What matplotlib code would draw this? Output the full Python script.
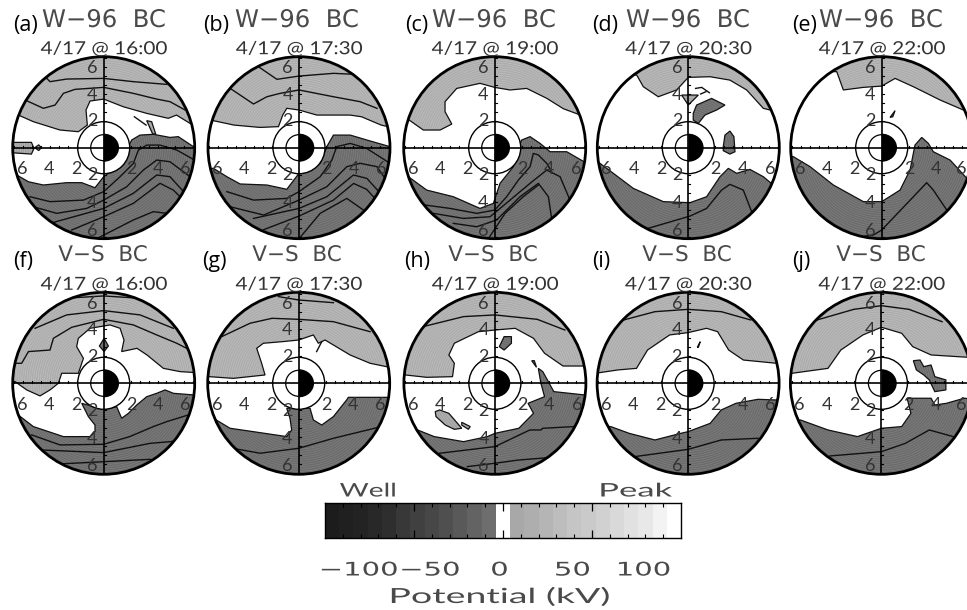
#!/usr/bin/env python
"""Ten polar potential maps (W-96 vs V-S boundary) with a shared grey colour bar."""
import matplotlib
matplotlib.use("Agg")
import matplotlib.pyplot as plt
from matplotlib.patches import Circle, Polygon, Wedge, Ellipse
from matplotlib.patheffects import AbstractPathEffect
from matplotlib.transforms import Affine2D
import numpy as np

W, H = 967, 610
R_MAX = 7.0
PX_PER_UNIT = 13.0

LIGHT_FILL, LIGHT_GRAIN = "#adadad", "#c4c4c4"
DARK_FILL, DARK_GRAIN = "#6c6c6c", "#868686"
THIN_FONT = ["Lato", "DejaVu Sans"]
WIDE_FONT = ["DejaVu Sans"]
LABEL_FONT = ["Open Sans", "DejaVu Sans"]
THIN_COLOR = "#333333"
FAINT_COLOR = "#4a4a4a"

# contour regions, x/y in model units, each runs left to right
A_LIGHT = [(-6.56, 2.51), (-5.41, 2.0), (-3.36, 1.36), (-1.95, 1.23), (-1.26, 1.74), (-1.36, 2.9), (-1.05, 3.59), (0, 3.74), (1.51, 3.15), (3.31, 2.64), (4.97, 2.26), (5.6, 2.51), (6.64, 1.87)]
A_DARK = [(-6.69, -2.1), (-5.79, -2.62), (-4.64, -2.87), (-2.85, -2.69), (-1.69, -2.69), (-0.67, -3.08), (0, -2.23), (1, -1.5), (1.9, 0.08), (2.15, 0.59), (2.79, 0.97), (3.82, 1.03), (5.1, 0.79), (5.74, 0.85), (6.9, 0.08)]
A_LINES = [
    [(-6.05, 3.67), (-4.64, 3.03), (-3.74, 3.28), (-3.1, 4.18), (-2.2, 4.49), (0, 4.64), (2.28, 4.18), (4.08, 3.74), (5.1, 3.54), (6.26, 2.9)],
    [(-4.64, 5.59), (-4.13, 5.08), (-2.85, 5.28), (0, 5.33), (2.28, 5.08), (4.85, 4.87)],
    [(-5.67, -3.77), (-4.13, -4.15), (-1.56, -4.03), (0, -3.38), (1.26, -2.23), (2.28, -1.21), (2.67, -0.18), (3.31, 0.2), (4.33, 0.2), (5.62, -0.18), (6.9, -0.9)],
    [(-5.41, -4.54), (-3.62, -5.05), (-1.31, -4.67), (0, -4.03), (1.77, -3), (3.05, -1.72), (4.08, -0.95), (5.1, -1.08), (6.64, -2.23)],
    [(-4.13, -5.82), (0, -4.67), (2.28, -3.51), (4.08, -2.1), (5.1, -2.23), (6.5, -3.77)],
    [(-2.46, -6.33), (0, -5.31), (2.28, -4.28), (4.33, -2.74), (5.36, -3.26), (6.38, -4.28)],
    [(-0.54, -7), (2.28, -5.56), (3.82, -4.92), (4.85, -5.05)],
    [(2.36, 2.38), (3.26, 1.74)],
]
A_LIGHT_BLOBS = [
    [(-7.2, 0.41), (-5.56, 0.41), (-5.36, -0.05), (-5.56, -0.49), (-7.2, -0.38)],
    [(3.31, 2.08), (3.69, 2), (4, 1.05), (3.77, 1.05)],
    [(-5.3, 0), (-5, 0.22), (-4.8, 0), (-5, -0.22)],
]

B_LIGHT = [(-6.83, 2.13), (-5, 1.74), (-3, 1.56), (-1.58, 1.62), (-1.25, 2.51), (-0.94, 3.03), (0, 2.9), (1.37, 2.51), (3.93, 2.51), (4.81, 2.38), (6.32, 1.74), (6.85, 1.62)]
B_DARK = [(-6.58, -1.59), (-5.55, -2.23), (-4.53, -2.79), (-2.47, -2.87), (-0.94, -3.2), (0, -1.97), (1.63, -1.2), (2.14, 0.08), (2.65, 0.97), (3.94, 0.97), (5.22, 0.59), (7, 0.08)]
B_LINES = [
    [(-5.29, 4.56), (-4.53, 4.05), (-3.5, 3.36), (-2.47, 3.92), (-1.45, 4.18), (0, 4.44), (2.65, 3.92), (4.7, 3.54), (6, 3.03)],
    [(-3.12, 6.23), (-1.7, 5.26), (0, 5.51), (2.65, 5.72), (5.47, 5.59)],
    [(-5.55, -3.38), (-3.5, -4.03), (-0.94, -3.9), (0, -3.38), (1.63, -2.23), (2.53, -0.95), (2.9, 0.08), (3.94, 0.33), (5.2, -0.05), (7, -1.2)],
    [(-5.3, -4.54), (-2.72, -5.18), (0, -4.03), (2.14, -3), (3.68, -1.46), (4.7, -1.2), (6, -1.46), (6.88, -2.74)],
    [(-3.5, -5.44), (0, -4.67), (2.14, -3.77), (4.19, -2.1), (5.22, -2.36), (6.5, -3.77)],
    [(-2.7, -6.3), (0, -5.26), (2.65, -4.03), (4.2, -2.75), (5.2, -3.2), (6.3, -4.4)],
    [(0, -7), (1.63, -5.05), (3.68, -3.9), (4.96, -4.8)],
]

C_LIGHT = [(-6.77, 2.26), (-5.49, 1.36), (-4.2, 1.36), (-3.3, 1.82), (-3.82, 2.77), (-3.82, 3.54), (-2.92, 4.56), (-1.13, 4.95), (0, 4.64), (1.18, 4.44), (2.46, 4.56), (4, 3.8), (5.28, 3), (6.95, 2.38)]
C_DARK = [(-6.64, -2.23), (-5.23, -3.26), (-3.18, -3.77), (-1.13, -4.67), (-0.1, -4.28), (0.41, -2.74), (1.44, -1.46), (1.82, 0.08), (2.08, 0.59), (2.72, 0.85), (3.49, 0.33), (4.26, -0.31), (5.54, -0.31), (7.08, -1.2)]
C_LINES = [
    [(-5.36, -4.41), (-3.44, -4.67), (-1.38, -5.05), (0, -4.8), (0.92, -3.77), (1.82, -2.49), (2.72, -1.46), (2.97, -0.44), (3.36, -0.56), (4, -1.2), (4.38, -1.85)],
    [(-4.72, -5.05), (-2.41, -5.44), (-0.36, -5.31), (1.18, -4.03), (2.72, -2.74), (4, -1.72), (5.03, -2.23), (5.79, -4.03)],
    [(-3.18, -5.82), (-1.38, -6.08), (0.15, -5.56), (1.95, -3.77), (3.36, -2.74), (4.13, -3.77), (4.38, -5.44)],
    [(-0.49, -7), (0.8, -5.05), (2.2, -3.77), (3.36, -2.87)],
]

D_LIGHT = [(-3.97, 5.59), (-3.46, 4.69), (-2.31, 3.92), (-0.9, 4.44), (0, 5.41), (1.67, 5.46), (3.2, 5.2), (4.49, 4.44), (5.77, 3.03), (6.8, 2.77)]
D_DARK = [(-6.8, -1.2), (-5.77, -1.97), (-4.23, -3.13), (-1.92, -4.15), (0.13, -4.23), (1.41, -3.77), (2.44, -2.23), (3.08, -1.59), (3.72, -1.97), (4.74, -1.67), (5.77, -2.23), (6.54, -2.87)]
D_LINES = [
    [(-3.08, -6.2), (0.13, -5.26), (1.41, -4.67), (2.56, -3.26), (3.2, -2.82), (4.23, -3.26), (4.87, -4.92)],
    [(0.56, 4.56), (1.03, 4.64), (1.62, 4.23)],
    [(0.95, 4.13), (1.36, 4.31)],
]
D_LIGHT_BLOBS = [[(-0.51, 4.05), (0.77, 4.05), (0, 3.28)]]
D_DARK_BLOBS = [
    [(0.38, 2.64), (0.64, 3.28), (1.79, 3.79), (2.82, 3.28), (2.18, 2.9), (1.28, 2.51), (0.77, 1.87), (0.38, 2.13)],
    [(2.69, 0.08), (2.82, 0.97), (3.2, 1.28), (3.51, 0.85), (3.59, -0.31), (3.2, -0.49), (2.69, -0.23)],
]

E_LIGHT = [(-3.46, 5.85), (-2.95, 4.44), (-1.41, 4.64), (0, 4.74), (1.03, 5.33), (2.44, 4.69), (4.49, 3.67), (6.28, 2.9), (6.92, 2.64)]
E_DARK = [(-6.8, -0.69), (-5.51, -1.46), (-3.72, -2.87), (-1.41, -4.15), (0, -4.15), (1.41, -3.26), (2.18, -1.72), (2.56, 0.2), (3.08, 0.79), (3.59, 0.33), (3.97, -0.31), (5.26, -0.95), (6.67, -2.49)]
E_LINES = [[(-1.28, -6.8), (-0.64, -6.72), (0, -6.33), (2.44, -3.77), (3.46, -2.69), (3.97, -3.26), (5, -4.79)]]
E_DARK_BLOBS = [[(0.64, 2.33), (1.03, 2.85), (0.85, 2.38)]]

F_LIGHT = [(-6.82, 0.13), (-5.92, -0.51), (-4.9, -0.97), (-4.13, -0.51), (-3.49, 0), (-3.23, 0.77), (-1.95, 0.77), (-1.56, 1.92), (-2.08, 2.82), (-1.95, 3.46), (-1.05, 4.23), (0.49, 4.49), (1.26, 4.23), (1.56, 3.33), (1.38, 2.44), (2.56, 2.69), (3.33, 2.18), (4.59, 1.15), (5.87, 0.9), (7.15, 0.82)]
F_DARK = [(-6.74, -2.31), (-5.41, -3.33), (-3.1, -4.1), (-1.05, -4.1), (-0.67, -3.72), (-0.67, -3.21), (-1.18, -2.56), (-1.69, -1.54), (0, -2), (1, -1.8), (1.38, -2.69), (1.9, -2.31), (2.54, -1.67), (3.31, -1.03), (4.08, -0.77), (4.72, -0.51), (5.36, -0.77), (7, -0.9)]
F_LINES = [
    [(-6.69, 1.54), (-6.31, 1.54), (-5.79, 2.44), (-4.13, 2.56), (-3.87, 3.46), (-2.46, 4.31), (0, 4.92), (2.28, 4.49), (4.08, 3.72), (5.62, 3.08), (6.38, 2.69)],
    [(-5.28, 4.23), (-2.85, 5.26), (0, 5.59), (2.8, 5.26), (5.36, 4.23)],
    [(-2.97, 6.54), (0, 6.72), (2.8, 6.54)],
    [(-5.54, -3.97), (-3.36, -4.74), (0, -4.69), (2, -4.1), (3.82, -3.33), (4.85, -2.95), (6.9, -2.31)],
    [(-4.77, -5.13), (0, -5.33), (3.56, -4.62), (6.64, -4.36)],
    [(-3.36, -6.2), (0, -6.03), (3.56, -5.85), (5.1, -6.15)],
]
F_DARK_BLOBS = [[(-0.33, 2.87), (0.03, 3.46), (0.36, 2.87), (0.03, 2.44)]]

G_LIGHT = [(-6.87, 0.51), (-5.03, 0.38), (-2.59, 0.64), (-2.85, 1.54), (-3.23, 2.69), (-2.72, 3.08), (-1.18, 3.21), (0, 3.33), (1.13, 3.72), (1.51, 3.08), (2.03, 3.33), (3.95, 2.18), (5.49, 1.54), (7, 1.23)]
G_DARK = [(-6.56, -2.69), (-5.28, -3.46), (-3.49, -3.72), (-0.92, -4.1), (-0.54, -3.59), (-0.67, -2.69), (-0.92, -1.92), (0.87, -1.92), (1.13, -2.82), (1.77, -3.21), (2.67, -2.56), (3.69, -1.28), (3.82, -1.08), (7, -1.08)]
G_LINES = [
    [(-5.92, 3.59), (-3.74, 4.62), (-2.05, 5), (0, 4.92), (2.67, 4.74), (5.49, 3.97)],
    [(-1.56, 6.67), (0, 6.41), (2.67, 6.2)],
    [(1.77, 3.2), (1.38, 2.44)],
    [(-5.8, -4.87), (-2.97, -5.38), (0, -5), (2.67, -4.23), (6.9, -3.2)],
]

H_LIGHT = [(-6.88, 0.64), (-5.24, 0.46), (-3.26, 0.51), (-3.12, 1.54), (-3.54, 2.18), (-3.12, 3.08), (-1.27, 3.97), (0, 4.1), (1.56, 4.23), (2.97, 3.46), (3.82, 2.31), (5.24, 1.33), (6.94, 1.33)]
H_DARK = [(-5.95, -3.59), (-4.67, -4.1), (-2.41, -4.49), (-0.57, -4.1), (0, -3.85), (1.84, -3.46), (2.97, -2.31), (2.55, -1.54), (3.82, -1.03), (3.54, 0), (3.34, 1.15), (3.68, 0.9), (3.97, 0.38), (4.53, -0.64), (6.94, -0.9)]
H_LINES = [
    [(-5.52, 4.36), (-2.41, 5.13), (0, 5.26), (3.26, 4.92), (5.38, 4.1)],
    [(-4.25, -5.38), (0, -4.87), (2.69, -3.59), (3.54, -3.59), (3.68, -3.46), (6.09, -3.33)],
    [(-2.12, -6.41), (0, -6.15), (1.84, -5.9), (4.1, -5.72)],
]
H_LIGHT_BLOBS = [
    [(-4.59, -2.18), (-4.25, -2.05), (-3.54, -2.31), (-2.55, -3.46), (-3.12, -3.54), (-3.82, -3.21), (-4.53, -2.56)],
    [(-2.55, -3), (-1.9, -3.33), (-2.04, -3.54), (-2.55, -3.21)],
]
H_DARK_BLOBS = [
    [(0.34, 2.82), (0.71, 3.59), (1.27, 3.59), (1.27, 3.08), (0.71, 2.56)],
    [(2.83, 1.74), (3.03, 1.74), (3.2, 1.23)],
]

I_LIGHT = [(-6.8, 0.82), (-5.38, 1.03), (-3.97, 1.15), (-3.12, 2.56), (-1.42, 3.72), (0, 3.9), (1.42, 4.23), (2.27, 3.97), (3.12, 2.56), (4.25, 1.79), (6.8, 1.54)]
I_DARK = [(-5.95, -3.33), (-4.53, -3.85), (-2.55, -4.36), (-0.57, -3.85), (0, -3.72), (1.7, -3.08), (2.55, -2.05), (3.68, -1.54), (5.38, -1.23), (6.66, -1.28)]
I_LINES = [
    [(-4.96, 4.87), (-2.55, 5.51), (0, 5.69), (2.55, 5.51), (4.82, 4.87)],
    [(-4.11, -5.64), (0, -5.08), (2.55, -4.36), (5.38, -4.23)],
]
I_DARK_BLOBS = [[(0.71, 2.77), (0.93, 3.2), (0.79, 2.77)]]

J_LIGHT = [(-6.88, 0.77), (-4.11, 1.15), (-3.12, 2.56), (-1.42, 3.72), (0, 4.31), (1.56, 3.85), (2.41, 2.82), (3.82, 2.18), (6.66, 2)]
J_DARK = [(-6.23, -2.82), (-4.11, -3.59), (-1.84, -4.1), (0, -3.46), (1.56, -3.33), (2.27, -2.31), (1.98, -1.15), (3.82, -1.15), (4.11, -1.67), (5, -1.54), (6.37, -1.15), (7, -1.2)]
J_LINES = [
    [(-4.96, 4.87), (-2.12, 5.69), (0, 5.97), (2.12, 5.69), (4.67, 4.74)],
    [(-3.97, -5.59), (0, -5.26), (1.84, -4.62), (3.68, -3.59), (5.52, -4.1)],
]
J_DARK_BLOBS = [[(2.46, 1.74), (2.97, 1.79), (3.26, 1.28), (3.82, 1.41), (4.11, 0.51), (4.96, 0.26), (4.96, -0.51), (4.11, -0.64), (3.68, 0.26), (3.26, 0.64), (2.69, 1.03)]]

LETTERS = ["(a)", "(b)", "(c)", "(d)", "(e)", "(f)", "(g)", "(h)", "(i)", "(j)"]
TITLES = ["W\u221296  BC"] * 5 + ["V\u2212S  BC"] * 5
TIMES = ["4/17 @ 16:00", "4/17 @ 17:30", "4/17 @ 19:00", "4/17 @ 20:30", "4/17 @ 22:00"] * 2
LIGHTS = [A_LIGHT, B_LIGHT, C_LIGHT, D_LIGHT, E_LIGHT, F_LIGHT, G_LIGHT, H_LIGHT, I_LIGHT, J_LIGHT]
DARKS = [A_DARK, B_DARK, C_DARK, D_DARK, E_DARK, F_DARK, G_DARK, H_DARK, I_DARK, J_DARK]
LINES = [A_LINES, B_LINES, C_LINES, D_LINES, E_LINES, F_LINES, G_LINES, H_LINES, I_LINES, J_LINES]
LIGHT_BLOBS = [A_LIGHT_BLOBS, [], [], D_LIGHT_BLOBS, [], [], [], H_LIGHT_BLOBS, [], []]
DARK_BLOBS = [[], [], [], D_DARK_BLOBS, E_DARK_BLOBS, F_DARK_BLOBS, [], H_DARK_BLOBS, I_DARK_BLOBS, J_DARK_BLOBS]

# panel centres in image pixels, label left edge, title centre
CENTER_X = [103.7, 299, 494.7, 688.3, 881.7, 103.7, 298.7, 494.9, 688.1, 881.4]
CENTER_Y = [147.7] * 5 + [383.3] * 5
LETTER_X = [13, 203, 405, 592, 792, 13, 202, 404, 592, 792]
TITLE_X = [104, 297, 494, 688, 881, 103, 297, 493, 687, 881]

TICK_VALUES = [2, 4, 6]

CBAR_GREYS = [0.11, 0.125, 0.14, 0.16, 0.18, 0.22, 0.25, 0.28, 0.31, 0.35, 0.39, 0.43,
              1.0, 0.66, 0.68, 0.71, 0.74, 0.77, 0.79, 0.82, 0.85, 0.88, 0.91, 0.95, 1.0]
CBAR_LABELS = ["\u2212100", "\u221250", "0", "50", "100"]
CBAR_LABEL_KV = [-81, -41, -2, 39, 79]


class Stretch(AbstractPathEffect):
    # the original lettering is much wider than any installed face
    def __init__(self, sx):
        super().__init__()
        self.sx = sx

    def draw_path(self, renderer, gc, tpath, affine, rgbFace=None):
        ext = tpath.get_extents(affine)
        mid = (ext.x0 + ext.x1) / 2
        wide = affine + Affine2D().translate(-mid, 0).scale(self.sx, 1).translate(mid, 0)
        renderer.draw_path(gc, tpath, wide, rgbFace)


def thin_text(fig, x, y, s, size, sx, font=THIN_FONT, color=THIN_COLOR):
    return fig.text(x / W, 1 - y / H, s, ha="center", va="center", fontsize=size, color=color,
                    family=font, path_effects=[Stretch(sx)])


def closed(boundary, top):
    # extend a left-to-right boundary out past the rim and close over the top or bottom
    y_far = 9 if top else -9
    first, last = boundary[0], boundary[-1]
    return [(-9, first[1])] + list(boundary) + [(9, last[1]), (9, y_far), (-9, y_far)]


def region(ax, pts, fill, grain, rim):
    patch = Polygon(pts, closed=True, fc=fill, ec="none", zorder=2)
    ax.add_patch(patch)
    patch.set_clip_path(rim)
    # fine contour grain inside the filled region
    clipper = Polygon(pts, closed=True, transform=ax.transData)
    for r in np.arange(2.0, R_MAX, 0.17):
        c = Circle((0, 0), r, fill=False, ec=grain, lw=0.35, zorder=2.2)
        ax.add_patch(c)
        c.set_clip_path(clipper)
    edge = Polygon(pts, closed=True, fc="none", ec="#111111", lw=0.9, zorder=3)
    ax.add_patch(edge)
    edge.set_clip_path(rim)


def draw_panel(fig, i):
    cx, cy = CENTER_X[i], CENTER_Y[i]
    half = R_MAX * PX_PER_UNIT
    ax = fig.add_axes([(cx - half) / W, 1 - (cy + half) / H, 2 * half / W, 2 * half / H])
    ax.set_xlim(-R_MAX, R_MAX)
    ax.set_ylim(-R_MAX, R_MAX)
    ax.axis("off")
    ax.patch.set_visible(False)

    rim = Circle((0, 0), R_MAX, transform=ax.transData)
    region(ax, closed(LIGHTS[i], True), LIGHT_FILL, LIGHT_GRAIN, rim)
    region(ax, closed(DARKS[i], False), DARK_FILL, DARK_GRAIN, rim)
    for blob in LIGHT_BLOBS[i]:
        region(ax, blob, "#a0a0a0", LIGHT_GRAIN, rim)
    for blob in DARK_BLOBS[i]:
        region(ax, blob, DARK_FILL, DARK_GRAIN, rim)
    for seg in LINES[i]:
        xs, ys = zip(*seg)
        ax.plot(xs, ys, color="#111111", lw=1.0, zorder=3, clip_path=rim)

    # inner magnetosphere is masked out
    ax.add_patch(Circle((0, 0), 2, fc="white", ec="none", zorder=4))
    ax.add_patch(Circle((0, 0), 2, fill=False, ec="black", lw=1.0, zorder=6))
    ax.add_patch(Circle((0, 0), 1, fill=False, ec="black", lw=0.9, zorder=6))

    ax.plot([-R_MAX, R_MAX], [0, 0], color="black", lw=1.2, zorder=5)
    ax.plot([0, 0], [-R_MAX, R_MAX], color="black", lw=1.2, zorder=5)
    for m in np.arange(2.07, R_MAX, 0.69):
        ax.plot([m, m], [0, 0.16], color="black", lw=0.8, zorder=5)
        ax.plot([-m, -m], [0, 0.16], color="black", lw=0.8, zorder=5)
        ax.plot([0, 0.16], [m, m], color="black", lw=0.8, zorder=5)
        ax.plot([0, 0.16], [-m, -m], color="black", lw=0.8, zorder=5)

    # night side black half disc
    earth = Ellipse((0, 0), 2.36, 2.16, fc="black", ec="none", zorder=7)
    ax.add_patch(earth)
    earth.set_clip_path(Wedge((0, 0), 3, -90, 90, transform=ax.transData))

    ax.add_patch(Circle((0, 0), R_MAX, fill=False, ec="black", lw=2.0, zorder=8, clip_on=False))

    tick_font = dict(ha="center", va="center", fontsize=13, color=THIN_COLOR, family=THIN_FONT, zorder=9)
    x_limit = (W - 6 - cx) / PX_PER_UNIT
    for v in TICK_VALUES:
        lab = str(v)
        ax.text(-v * 1.05, -1.67, lab, **tick_font)
        ax.text(min(v * 1.05, x_limit), -1.67, lab, **tick_font)
        ax.text(-0.87, v * 1.02, lab, **tick_font)
        ax.text(-0.87, -v * 1.07 + 0.03, lab, **tick_font)

    top_row = i < 5
    fig.text(LETTER_X[i] / W, 1 - (25 if top_row else 261) / H, LETTERS[i], ha="left", va="center",
             fontsize=15.5, color="black", family=LABEL_FONT)
    thin_text(fig, TITLE_X[i], 20 if top_row else 255, TITLES[i], 17.5 if top_row else 15.5, 1.0,
              font=WIDE_FONT, color=FAINT_COLOR)
    thin_text(fig, cx, cy - 98.5, TIMES[i], 13, 1.15)


def draw_cbar(fig):
    left, right, top, bottom = 325, 681, 503, 538
    ax = fig.add_axes([left / W, 1 - bottom / H, (right - left) / W, (bottom - top) / H])
    edges = np.linspace(-100, 100, len(CBAR_GREYS) + 1)
    ax.pcolormesh(edges, [0, 1], np.array([CBAR_GREYS]), cmap="gray", vmin=0, vmax=1)
    ax.set_xlim(-100, 100)
    ax.set_ylim(0, 1)
    ax.set_yticks([])
    ax.set_xticks([-50, 0, 50])
    ax.set_xticks(np.arange(-90, 100, 10), minor=True)
    ax.tick_params(axis="x", which="major", direction="in", top=True, bottom=True, length=6,
                   width=0.9, labelbottom=False)
    ax.tick_params(axis="x", which="minor", direction="in", top=True, bottom=True, length=3, width=0.8)
    for s in ax.spines.values():
        s.set_linewidth(1.0)
    thin_text(fig, 368, 491, "Well", 13.5, 1.5, color=FAINT_COLOR)
    thin_text(fig, 636, 491, "Peak", 13.5, 1.85, color=FAINT_COLOR)
    for kv, lab in zip(CBAR_LABEL_KV, CBAR_LABELS):
        thin_text(fig, 503 + kv * 1.78, 570, lab, 13.5, 1.55, font=WIDE_FONT, color=FAINT_COLOR)
    thin_text(fig, 500, 597, "Potential (kV)", 15, 1.8, color=FAINT_COLOR)


def main():
    fig = plt.figure(figsize=(W / 100, H / 100), dpi=100)
    for i in range(len(LETTERS)):
        draw_panel(fig, i)
    draw_cbar(fig)
    fig.savefig("out.png", dpi=100)
    plt.close(fig)


if __name__ == "__main__":
    main()
